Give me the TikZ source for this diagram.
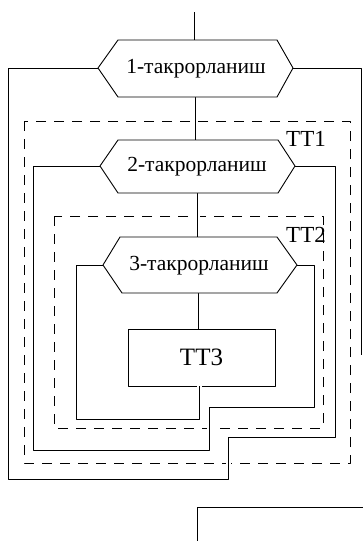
\documentclass[tikz,border=0pt]{standalone}
\usepackage{fontspec}
\setmainfont{Liberation Serif}
\begin{document}
\begin{tikzpicture}[x=1pt,y=-1pt,
  line join=round,
  solid line/.style={line width=0.9pt, preaction={draw=white, line width=5pt}},
  dashbox/.style={line width=1pt, dash pattern=on 10pt off 8pt},
  hexbox/.style={line width=0.9pt, fill=white},
  hextext/.style={font=\fontsize{21.5}{21.5}\selectfont, inner sep=0pt},
  ttlabel/.style={font=\fontsize{23}{23}\selectfont, inner sep=0pt},
  bodybox/.style={draw, line width=0.9pt, minimum width=147pt, minimum height=57pt, inner sep=0pt, font=\fontsize{25}{25}\selectfont}]
\useasboundingbox (0,0) rectangle (363,541);

% dashed regions
\draw[dashbox] (24,121) rectangle (350,463);
\draw[dashbox] (54,216) rectangle (323,428);

% hexagon coordinates
\coordinate (h1l) at (98,68);  \coordinate (h1r) at (293,68);
\coordinate (h1t) at (194,40); \coordinate (h1b) at (195,97);
\coordinate (h2l) at (100,166); \coordinate (h2r) at (295,166);
\coordinate (h2t) at (195,140); \coordinate (h2b) at (197,193);
\coordinate (h3l) at (103,265); \coordinate (h3r) at (297,265);
\coordinate (h3t) at (197,237); \coordinate (h3b) at (198,293);
\coordinate (start) at (194,12);
\coordinate (exit) at (361,355);

% body box
\node[bodybox] (tt3) at (201.5,357.5) {TT3};

% connectors
\draw[solid line] (start) -- (h1t);
\draw[solid line] (h1b) -- (h2t);
\draw[solid line] (h2b) -- (h3t);
\draw[solid line] (h3b) -- (h3b |- tt3.north);
% loop 3 return
\draw[solid line] (tt3.south -| 199,0) -- (199,419) -- (76,419) -- (76,265) -- (h3l);
% loop 3 exit -> loop 2 return
\draw[solid line] (h3r) -- (314,265) -- (314,407) -- (209,407) -- (209,450) -- (33,450) -- (33,166) -- (h2l);
% loop 2 exit -> loop 1 return
\draw[solid line] (h2r) -- (335,166) -- (335,437) -- (228,437) -- (228,479) -- (8,479) -- (8,68) -- (h1l);
% loop 1 exit
\draw[solid line] (h1r) -- (361,68) -- (exit);

% hexagons
\draw[hexbox] (h1l) -- (118,40) -- (277,40) -- (h1r) -- (277,97) -- (118,97) -- cycle;
\draw[hexbox] (h2l) -- (118,140) -- (278,140) -- (h2r) -- (278,193) -- (118,193) -- cycle;
\draw[hexbox] (h3l) -- (120,237) -- (277,237) -- (h3r) -- (277,293) -- (122,293) -- cycle;
\node[hextext] (t1) at (196,69) {1-такрорланиш};
\node[hextext] (t2) at (197,167) {2-такрорланиш};
\node[hextext] (t3) at (199,266) {3-такрорланиш};

% labels
\node[ttlabel] (l1) at (306,139) {TT1};
\node[ttlabel] (l2) at (306,235) {TT2};

% next block (cut off)
\draw[line width=0.9pt] (363,507) -- (197,507) -- (197,541);
\end{tikzpicture}
\end{document}
